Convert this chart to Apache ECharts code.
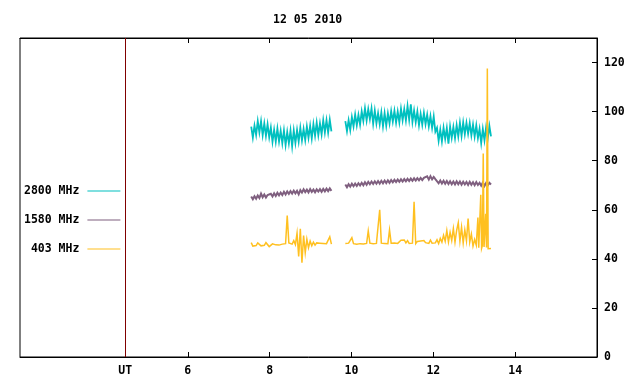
<!DOCTYPE html>
<html>
<head>
<meta charset="utf-8">
<script src="https://cdn.jsdelivr.net/npm/echarts@6/dist/echarts.min.js"></script>
<style>html,body{margin:0;padding:0;background:#fff}#c{width:640px;height:384px}</style>
</head>
<body>
<div id="c"></div>
<script>
// ---- data (hours UT, solar flux units) ----
const title = '12 05 2010';
const names = ['2800 MHz', '1580 MHz', '403 MHz'];
const colors = ['#00c0c0', '#7f5f7f', '#ffc020'];
const xTicks = [6, 8, 10, 12, 14];
const yTicks = [0, 20, 40, 60, 80, 100, 120];
const utHour = 4.47;

// sample grid for the two observing sessions
const seg1Start = 7.55, seg2Start = 9.85, sampleStep = 0.04;

const f2800a = [93.9,89.4,94.3,90.5,96.1,91.5,96.1,90.4,95.2,90.1,94.8,89.5,93.5,87.7,92.6,87.8,93.1,87.8,92.2,87.1,
  92.3,86.4,91.7,87.1,92.3,85.9,92.3,87.2,92.5,87.8,93.4,88.3,92.9,88.4,93.9,89.3,94.2,89.1,94.9,90.2,
  95.5,90.4,95.2,90.7,96.5,91.5,96.5,91.5,96.7,91.9];
const f2800b = [96.1,92.0,96.5,92.5,97.8,94.0,98.8,94.4,98.7,94.7,100.1,96.2,101.3,96.4,101.0,96.9,101.3,95.1,100.4,95.2,
  99.4,94.9,99.7,94.0,99.4,94.3,99.3,95.2,100.2,95.9,100.3,95.5,100.0,95.6,101.2,96.5,101.0,96.4,102.3,96.7,
  103.0,95.8,100.4,95.7,100.0,94.5,99.1,94.7,99.5,94.9,98.8,94.0,98.2,93.4,98.0,91.8,93.4,88.1,92.7,87.9,
  93.4,88.9,93.3,86.9,93.9,89.3,93.8,89.2,94.5,89.9,95.4,90.1,95.6,90.8,95.4,91.0,95.3,90.3,94.7,89.8,
  94.4,89.2,93.0,87.2,92.9,88.3,93.6,89.0,94.2,89.9];

const f1580a = [65.4,64.3,65.5,64.5,65.8,64.8,66.6,65.1,66.2,65.0,66.0,65.2,66.5,65.4,66.7,65.6,66.9,65.9,67.0,66.0,
  67.3,66.2,67.5,66.5,67.6,66.6,67.8,66.7,67.7,66.3,68.0,67.0,68.3,67.2,68.2,67.1,68.4,67.3,68.2,67.1,
  68.3,67.4,68.4,67.3,68.5,67.5,68.6,67.6,68.7,67.7];
const f1580b = [70.3,69.2,70.4,69.4,70.6,69.6,70.7,69.7,70.8,69.9,71.0,70.0,71.2,70.2,71.4,70.4,71.5,70.5,71.6,70.6,
  71.7,70.7,71.8,70.8,71.9,70.9,72.0,71.0,72.1,71.2,72.2,71.3,72.3,71.4,72.4,71.5,72.5,71.6,72.6,71.7,
  72.7,71.8,72.8,71.9,72.9,72.0,73.0,72.1,73.0,72.2,73.6,72.3,73.7,72.4,73.4,72.5,71.8,70.8,71.9,70.7,
  71.8,70.6,71.7,70.5,71.6,70.4,71.5,70.3,71.6,70.4,71.5,70.2,71.4,70.3,71.3,70.1,71.4,70.2,71.2,70.0,
  71.3,70.1,71.0,69.8,71.1,69.7,70.9,69.9,71.0,70.3];

const f403a = [46.6,45.2,44.9,45.4,46.5,46.2,45.3,44.8,45.5,46.6,46.0,45.0,45.1,46.1,46.5,45.7,45.2,45.6,46.3,46.0,
  45.6,46.2,57.6,46.5,47.2,46.0,47.4,45.8,50.5,41.0,52.2,38.4,49.5,42.5,48.0,44.5,47.2,45.3,46.8,45.6,
  46.5,45.7,46.4,45.9,46.3,45.8,46.2,45.9,49.0,46.0];
const f403b = [46.3,46.0,46.4,46.1,48.6,46.2,46.5,46.0,46.6,46.2,46.7,46.1,46.5,46.3,51.4,46.4,46.8,46.2,46.6,46.3,
  46.7,60.0,46.4,46.6,46.3,46.7,46.2,51.8,46.4,46.1,46.5,45.9,46.3,46.0,47.6,46.8,47.7,46.5,47.4,46.3,
  46.9,46.4,63.3,46.2,47.1,46.4,47.3,46.5,47.5,46.6,47.2,46.3,47.6,46.4,47.1,46.5,47.8,46.2,48.3,46.8,
  49.6,47.2,51.5,46.9,50.8,47.5,52.3,46.8,51.6,54.7,47.2,52.9,46.5,51.8,47.4,56.4,46.8,50.1,45.2];
// end of the record (irregular samples around the final burst)
const f403tailT = [13.01,13.05,13.09,13.11,13.14,13.16,13.18,13.20,13.22,13.24,13.26,13.28,13.30,13.32,13.34,13.37,13.41];
const f403tailV = [47.9,45.6,56.8,44.5,44.0,66.1,44.3,45.5,82.9,44.8,44.2,58.4,44.6,117.6,44.1,44.5,44.2];

// ---- build series ----
function onGrid(start, vals) { return vals.map((v, i) => [+(start + i * sampleStep).toFixed(3), v]); }
const gap = [[9.7, '-']];
const d2800 = onGrid(seg1Start, f2800a).concat(gap, onGrid(seg2Start, f2800b));
const d1580 = onGrid(seg1Start, f1580a).concat(gap, onGrid(seg2Start, f1580b));
const d403 = onGrid(seg1Start, f403a).concat(gap, onGrid(seg2Start, f403b), f403tailT.map((t, i) => [t, f403tailV[i]]));
const datasets = [d2800, d1580, d403];
const widths = [1.8, 2, 1.5];

const FONT = 'DejaVu Sans Mono';
const txt = { fontFamily: FONT, fontWeight: 'bold', fontSize: 11.5, color: '#000' };

const chart = echarts.init(document.getElementById('c'), null, { renderer: 'canvas' });
chart.setOption({
  animation: false,
  backgroundColor: '#fff',
  title: { text: title, left: 268, top: 9, textStyle: Object.assign({}, txt) },
  legend: {
    orient: 'vertical', left: 19, top: 179, align: 'right', selectedMode: false,
    icon: 'rect', itemWidth: 33, itemHeight: 1, itemGap: 15,
    formatter: n => n.padStart(8, ' '),
    textStyle: Object.assign({ lineHeight: 14, padding: [0, 3, 0, 0] }, txt),
    data: names
  },
  grid: { left: 20, right: 43, top: 38, bottom: 27, show: true, borderColor: '#000', borderWidth: 1 },
  xAxis: [{
    type: 'value', min: 1.9, max: 16, position: 'bottom',
    axisLine: { lineStyle: { color: '#000' } },
    axisTick: { inside: true, length: 5, customValues: xTicks, lineStyle: { color: '#000' } },
    axisLabel: Object.assign({ customValues: [utHour].concat(xTicks), margin: 8,
      formatter: v => (Math.abs(v - utHour) < 0.01 ? 'UT' : String(v)) }, txt),
    splitLine: { show: false }
  }, {
    type: 'value', min: 1.9, max: 16, position: 'top',
    axisLine: { lineStyle: { color: '#000' } },
    axisTick: { inside: true, length: 5, customValues: xTicks, lineStyle: { color: '#000' } },
    axisLabel: { show: false }, splitLine: { show: false }
  }],
  yAxis: [{
    type: 'value', min: 0, max: 130, position: 'right',
    axisLine: { show: true, lineStyle: { color: '#000' } },
    axisTick: { show: true, inside: true, length: 5, customValues: yTicks, lineStyle: { color: '#000' } },
    axisLabel: Object.assign({ customValues: yTicks, margin: 7, padding: [3, 0, 0, 0] }, txt),
    splitLine: { show: false }
  }],
  series: names.map((n, k) => ({
    name: n, type: 'line', data: datasets[k], xAxisIndex: 0, yAxisIndex: 0,
    showSymbol: false, symbol: 'none', connectNulls: false,
    lineStyle: { width: widths[k], color: colors[k], join: 'miter' }, itemStyle: { color: colors[k] },
    emphasis: { disabled: true },
    markLine: k === 0 ? {
      silent: true, symbol: 'none', label: { show: false },
      lineStyle: { color: '#800000', type: 'solid', width: 1 },
      data: [{ xAxis: utHour }]
    } : undefined
  }))
});
</script>
</body>
</html>
